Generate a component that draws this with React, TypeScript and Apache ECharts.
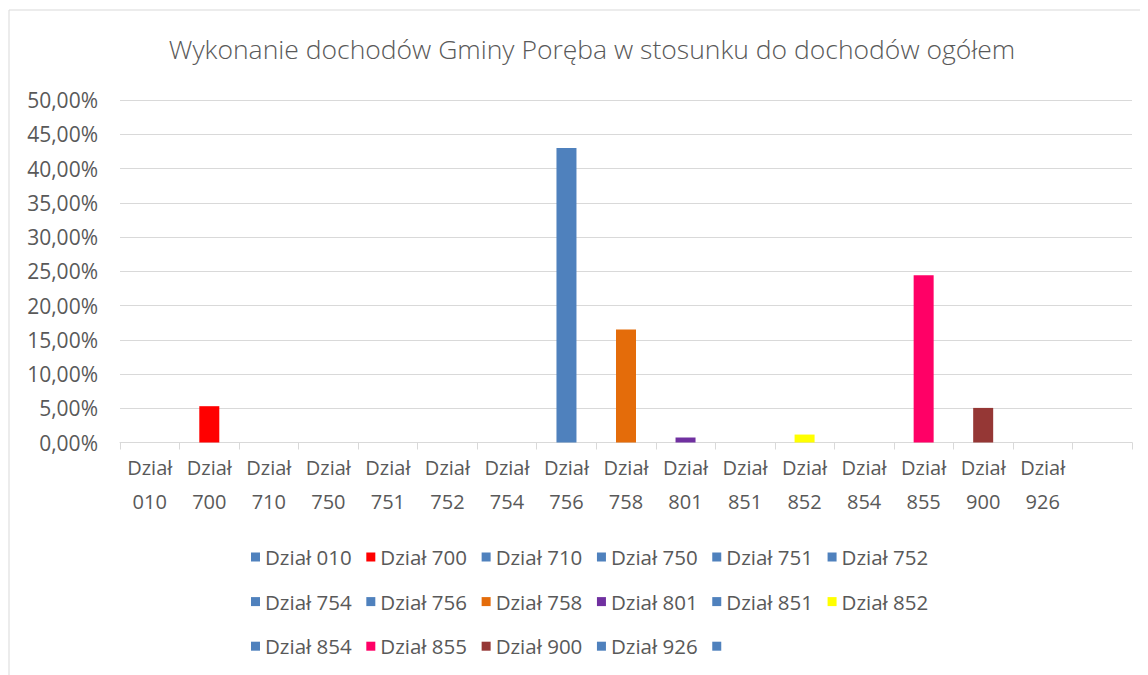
import React, { useEffect, useRef } from "react";
import * as echarts from "echarts";

const titleText = "Wykonanie dochodów Gminy Poręba w stosunku do dochodów ogółem";

const categories = [
  "Dział 010", "Dział 700", "Dział 710", "Dział 750", "Dział 751", "Dział 752",
  "Dział 754", "Dział 756", "Dział 758", "Dział 801", "Dział 851", "Dział 852",
  "Dział 854", "Dział 855", "Dział 900", "Dział 926", "",
];

const legendNames = [
  "Dział 010", "Dział 700", "Dział 710", "Dział 750", "Dział 751", "Dział 752",
  "Dział 754", "Dział 756", "Dział 758", "Dział 801", "Dział 851", "Dział 852",
  "Dział 854", "Dział 855", "Dział 900", "Dział 926", " ",
];

// percent of total income
const values = [0, 5.3, 0, 0, 0, 0, 0, 43.0, 16.5, 0.73, 0, 1.16, 0, 24.4, 5.05, 0, 0];

const colors = [
  "#4F81BD", "#FF0000", "#4F81BD", "#4F81BD", "#4F81BD", "#4F81BD",
  "#4F81BD", "#4F81BD", "#E46C0A", "#7030A0", "#4F81BD", "#FFFF00",
  "#4F81BD", "#FF0066", "#953735", "#4F81BD", "#4F81BD",
];

const yMin = 0;
const yMax = 50;
const yStep = 5;

const FONT = "'Open Sans', sans-serif";
const TEXT = "#595959";
const GRID = "#d9d9d9";

export default function App() {
  const ref = useRef<HTMLDivElement>(null);

  useEffect(() => {
    if (!ref.current) return;
    const chart = echarts.init(ref.current, undefined, { renderer: "svg" });

    const series = legendNames.map((name, i) => ({
      name,
      type: "bar",
      stack: "all",
      barWidth: 20,
      itemStyle: { color: colors[i] },
      data: categories.map((_, j) => (j === i ? values[i] : "-")),
    }));

    chart.setOption({
      animation: false,
      textStyle: { fontFamily: FONT },
      title: {
        text: titleText,
        left: 579,
        textAlign: "center",
        top: 22,
        textStyle: { fontFamily: FONT, fontSize: 26.5, fontWeight: 300, color: TEXT },
      },
      graphic: [
        {
          type: "rect",
          shape: { x: 1, y: 2, width: 1300, height: 800 },
          style: { fill: "none", stroke: GRID, lineWidth: 1 },
          silent: true,
        },
      ],
      grid: { left: 112, right: 16, top: 92, bottom: 232.5, containLabel: false },
      xAxis: {
        type: "category",
        data: categories,
        axisLine: { show: true, lineStyle: { color: GRID, width: 1 } },
        axisTick: { show: true, length: 7, lineStyle: { color: GRID } },
        axisLabel: {
          interval: 0,
          margin: 8,
          fontFamily: FONT,
          fontSize: 20,
          lineHeight: 34,
          color: TEXT,
          formatter: (v: string) => v.replace(" ", "\n"),
        },
      },
      yAxis: {
        type: "value",
        min: yMin,
        max: yMax,
        interval: yStep,
        axisLine: { show: false },
        axisTick: { show: false },
        splitLine: { lineStyle: { color: GRID, width: 1 } },
        axisLabel: {
          margin: 22,
          fontFamily: FONT,
          fontSize: 21,
          color: TEXT,
          formatter: (v: number) => v.toFixed(2).replace(".", ",") + "%",
        },
      },
      legend: {
        data: legendNames,
        left: 238,
        top: 529,
        width: 730,
        orient: "horizontal",
        icon: "rect",
        itemWidth: 9,
        itemHeight: 9,
        itemGap: 14.6,
        selectedMode: false,
        textStyle: { fontFamily: FONT, fontSize: 20.5, color: TEXT, lineHeight: 30, padding: [0, 0, 0, 0] },
      },
      series,
    });

    return () => chart.dispose();
  }, []);

  return <div ref={ref} style={{ width: 1140, height: 667 }} />;
}
